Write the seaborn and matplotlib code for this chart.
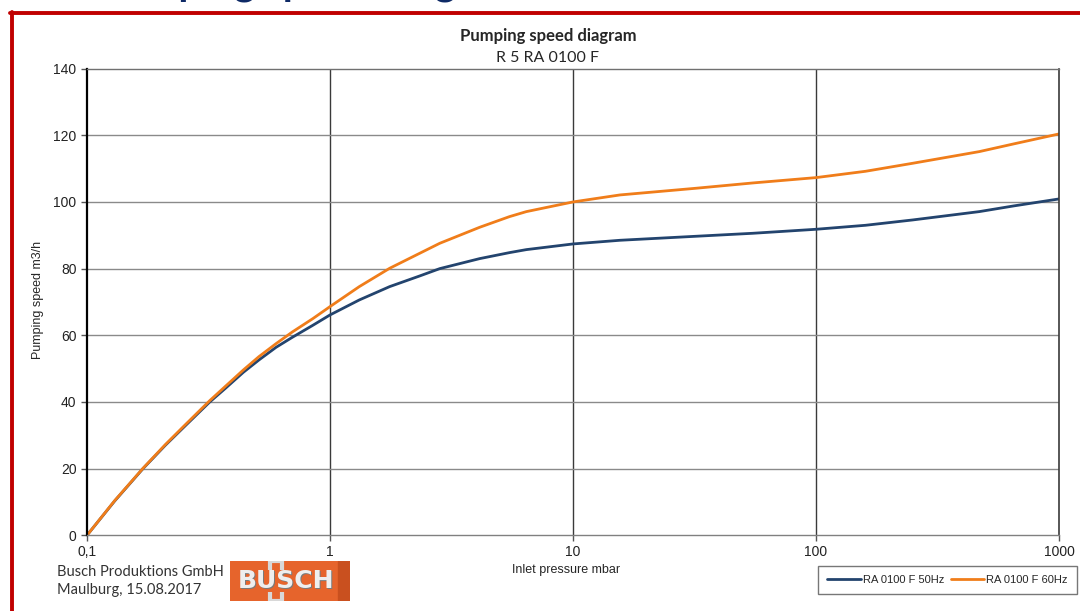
import numpy as np
import pandas as pd
import matplotlib
matplotlib.use("Agg")
import matplotlib.pyplot as plt
from matplotlib.lines import Line2D
from matplotlib.patches import Rectangle
import seaborn as sns

pressure = [0.1, 0.13, 0.17, 0.21, 0.25, 0.32, 0.37, 0.44, 0.51, 0.6, 0.7, 0.85, 1, 1.32, 1.76,
            2.34, 2.83, 4.13, 5.48, 6.43, 10, 15.6, 32, 55, 100, 160, 250, 470, 650, 1000]
speed_50hz = [0, 10.3, 20, 27.0, 32.4, 40, 44.0, 48.9, 52.6, 56.4, 59.4, 63.0, 66.1, 70.6, 74.6,
              77.8, 80, 83.0, 84.8, 85.7, 87.4, 88.5, 89.7, 90.6, 91.8, 93.0, 94.6, 97.1, 98.8, 100.9]
speed_60hz = [0, 10.4, 20.1, 27.2, 32.7, 40.4, 44.6, 49.6, 53.6, 57.5, 61.0, 65.0, 68.6, 74.6, 80.1,
              84.6, 87.6, 92.4, 95.6, 97.1, 100, 102.1, 104.1, 105.7, 107.3, 109.2, 111.6, 115.1, 117.4, 120.4]
series_names = ["RA 0100 F 50Hz", "RA 0100 F 60Hz"]
x_ticks = [0.1, 1, 10, 100, 1000]
x_tick_labels = ["0,1", "1", "10", "100", "1000"]
y_ticks = [0, 20, 40, 60, 80, 100, 120, 140]

df = pd.DataFrame({
    "pressure": pressure * 2,
    "speed": speed_50hz + speed_60hz,
    "serie": [series_names[0]] * len(pressure) + [series_names[1]] * len(pressure),
})

##------------------------------------------- grafico -------------------------------------------
sns.set_style("white")
plt.rcParams["font.family"] = ["Liberation Sans", "DejaVu Sans"]

fig = plt.figure(figsize=(10.8, 6.11), dpi=100)
ax = fig.add_axes([87 / 1080, 1 - 535.3 / 611, (1059 - 87) / 1080, (535.3 - 68.6) / 611])

colores = {series_names[0]: "#23446E", series_names[1]: "#F07D1A"}
sns.lineplot(data=df, x="pressure", y="speed", hue="serie", palette=colores,
             linewidth=2.0, ax=ax, legend=False, sort=False)

ax.set_xscale("log")
ax.set_xlim(0.1, 1000)
ax.set_ylim(0, 140)
ax.set_xticks(x_ticks)
ax.set_xticklabels(x_tick_labels)
ax.xaxis.set_minor_locator(matplotlib.ticker.NullLocator())
ax.set_yticks(y_ticks)
ax.tick_params(axis="both", labelsize=10, colors="#222222", length=4, width=1, direction="out")
ax.tick_params(axis="y", left=True, color="#555555")
ax.tick_params(axis="x", bottom=True, color="#555555", pad=3)

# rejilla: verticales oscuras, horizontales grises
for xv in x_ticks[1:-1]:
    ax.axvline(xv, color="#3a3a3a", linewidth=1.0, zorder=0)
for yv in y_ticks[1:-1]:
    ax.axhline(yv, color="#8a8a8a", linewidth=1.0, zorder=0)
for lado, color, ancho in [("left", "#000000", 1.6), ("right", "#3a3a3a", 1.2),
                           ("top", "#707070", 1.0), ("bottom", "#808080", 1.0)]:
    ax.spines[lado].set_visible(True)
    ax.spines[lado].set_color(color)
    ax.spines[lado].set_linewidth(ancho)

ax.set_xlabel("")
ax.set_ylabel("")
fig.text(566 / 1080, 1 - 570 / 611, "Inlet pressure mbar", ha="center", va="center", fontsize=9)
fig.text(38 / 1080, 1 - 300 / 611, "Pumping speed m3/h", ha="center", va="center", fontsize=9,
         rotation=90)

# titulos
fig.text(548 / 1080, 1 - 36 / 611, "Pumping speed diagram", ha="center", va="center",
         fontsize=12, fontweight="bold", family=["Lato", "DejaVu Sans"])
fig.text(548 / 1080, 1 - 58 / 611, "R 5 RA 0100 F", ha="center", va="center",
         fontsize=11.5, family=["Lato", "DejaVu Sans"])

# encabezado de la diapositiva, cortado arriba (solo se ven los descendentes)
fig.text(97 / 1080, 1 + 5 / 611, "Pumping speed diagram", ha="left", va="baseline",
         fontsize=29, fontweight="bold", color="#0E2A66", family=["Lato", "DejaVu Sans"])

# marco rojo
fig.add_artist(Line2D([11.5 / 1080, 11.5 / 1080], [0, 1 - 12 / 611], color="#C00000",
                      linewidth=2.8, transform=fig.transFigure))
fig.add_artist(Line2D([10 / 1080, 1], [1 - 13 / 611, 1 - 13 / 611], color="#C00000",
                      linewidth=2.8, transform=fig.transFigure))

# pie
fig.text(57 / 1080, 1 - 572 / 611, "Busch Produktions GmbH", ha="left", va="center",
         fontsize=10.5, color="#333333", family=["Lato", "DejaVu Sans"])
fig.text(57 / 1080, 1 - 590 / 611, "Maulburg, 15.08.2017", ha="left", va="center",
         fontsize=10.5, color="#333333", family=["Lato", "DejaVu Sans"])

# logo
logo = fig.add_axes([230 / 1080, 1 - 601 / 611, 120 / 1080, 40 / 611])
logo.set_xlim(0, 1)
logo.set_ylim(0, 1)
logo.axis("off")
logo.add_patch(Rectangle((0, 0), 1, 1, color="#E6642C"))
logo.add_patch(Rectangle((0.9, 0), 0.1, 1, color="#C9501F"))
# las dos "U" del logo como trazos
logo.plot([0.335, 0.335, 0.435, 0.435], [0.78, 1.0, 1.0, 0.78], color="#D8D8D8",
          linewidth=3, solid_capstyle="butt")
logo.plot([0.335, 0.335, 0.435, 0.435], [0.22, 0.0, 0.0, 0.22], color="#D8D8D8",
          linewidth=3, solid_capstyle="butt")
logo.text(0.475, 0.47, "BUSCH", ha="center", va="center", fontsize=18, fontweight="heavy",
          color="#7a7a7a", family=["DejaVu Sans"])
logo.text(0.465, 0.49, "BUSCH", ha="center", va="center", fontsize=18, fontweight="heavy",
          color="#EEEEEE", family=["DejaVu Sans"])

# leyenda
handles = [Line2D([], [], color=colores[n], linewidth=2.0) for n in series_names]
leg = fig.legend(handles, series_names, loc="center", ncol=2,
                 bbox_to_anchor=(947.5 / 1080, 1 - 580 / 611), fontsize=8,
                 frameon=True, fancybox=False, handlelength=3.0, handletextpad=0.2,
                 columnspacing=0.6, borderpad=0.8)
leg.get_frame().set_edgecolor("#555555")
leg.get_frame().set_linewidth(1.0)

fig.savefig("out.png", dpi=100)
